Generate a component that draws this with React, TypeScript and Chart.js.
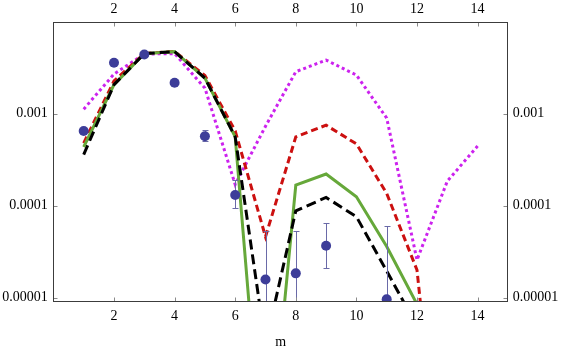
import React, { useEffect, useRef } from 'react';
import { Chart, registerables } from 'chart.js';

Chart.register(...registerables);

// ---------- data ----------
const mValues = [1, 2, 3, 4, 5, 6, 7, 8, 9, 10, 11, 12, 13, 14];
const magentaSeries = [1.12e-3, 2.7e-3, 4.45e-3, 4.5e-3, 1.9e-3, 1.7e-4, 7.3e-4, 2.86e-3, 3.83e-3, 2.63e-3, 8.97e-4, 2.57e-5, 1.85e-4, 4.45e-4];
const redSeries = [4.8e-4, 2.27e-3, 4.5e-3, 4.75e-3, 2.6e-3, 6.5e-4, 4.6e-5, 5.6e-4, 7.5e-4, 4.7e-4, 1.36e-4, 2.0e-5, 1.4e-8, null];
const greenSeries = [4.35e-4, 2.07e-3, 4.5e-3, 4.73e-3, 2.44e-3, 5.6e-4, 6e-8, 1.68e-4, 2.21e-4, 1.25e-4, 3.6e-5, 8.5e-6, null, null];
const blackSeries = [3.6e-4, 2.07e-3, 4.5e-3, 4.73e-3, 2.44e-3, 5.6e-4, 3.1e-6, 8.8e-5, 1.23e-4, 7.6e-5, 1.95e-5, 4.9e-6, null, null];

const dataM = [1, 2, 3, 4, 5, 6, 7, 8, 9, 10, 11];
const dataValues = [6.5e-4, 3.58e-3, 4.4e-3, 2.17e-3, 5.7e-4, 1.31e-4, 1.58e-5, 1.84e-5, 3.67e-5, null, 9.6e-6];
const errUpper = [null, null, null, null, 6.6e-4, 1.9e-4, 5.35e-5, 5.35e-5, 6.44e-5, null, 6.07e-5];
const errLower = [null, null, null, null, 5.0e-4, 9.4e-5, 1e-7, 1e-7, 2.09e-5, null, 1e-7];

const xTickValues = [2, 4, 6, 8, 10, 12, 14];
const yTickValues = [1e-5, 1e-4, 1e-3];
const yTickLabels = ['0.00001', '0.0001', '0.001'];
const xAxisTitle = 'm';

const X_MIN = 0;
const X_MAX = 15;
const Y_MIN = 9.05e-6;
const Y_MAX = 9.93e-3;

// ---------- styles ----------
const FONT = { family: '"Liberation Serif", "Times New Roman", serif', size: 14 };
const POINT_COLOR = '#3d3d99';
const ERR_COLOR = '#6a6aa8';

const toXY = (xs: number[], ys: (number | null)[]) => ys.map((y, i) => ({ x: xs[i], y }));

const errorBarPlugin = {
  id: 'errorBars',
  beforeDatasetDraw(chart: any, args: any) {
    if (args.index !== 0) return;
    const { ctx, chartArea } = chart;
    const xs = chart.scales.x;
    const ys = chart.scales.y;
    ctx.save();
    ctx.beginPath();
    ctx.rect(chartArea.left, chartArea.top, chartArea.right - chartArea.left, chartArea.bottom - chartArea.top);
    ctx.clip();
    ctx.strokeStyle = ERR_COLOR;
    ctx.lineWidth = 1;
    dataM.forEach((m, i) => {
      const hi = errUpper[i];
      const lo = errLower[i];
      if (hi == null || lo == null) return;
      const px = Math.round(xs.getPixelForValue(m)) + 0.5;
      const yh = Math.round(ys.getPixelForValue(hi)) + 0.5;
      const yl = Math.round(ys.getPixelForValue(lo)) + 0.5;
      ctx.beginPath();
      ctx.moveTo(px, yh);
      ctx.lineTo(px, yl);
      ctx.moveTo(px - 3, yh);
      ctx.lineTo(px + 3, yh);
      ctx.moveTo(px - 3, yl);
      ctx.lineTo(px + 3, yl);
      ctx.stroke();
    });
    ctx.restore();
  },
};

const framePlugin = {
  id: 'frameTicks',
  afterDatasetsDraw(chart: any) {
    const { ctx, chartArea } = chart;
    const xs = chart.scales.x;
    const ys = chart.scales.y;
    const l = Math.floor(chartArea.left) + 0.5;
    const r = Math.floor(chartArea.right) + 0.5;
    const t = Math.floor(chartArea.top) + 0.5;
    const b = Math.floor(chartArea.bottom) + 0.5;
    ctx.save();
    ctx.lineWidth = 1;
    ctx.strokeStyle = '#8a8a8a';
    const tl = 4;
    ctx.beginPath();
    xTickValues.forEach((v) => {
      const px = Math.round(xs.getPixelForValue(v)) + 0.5;
      ctx.moveTo(px, b);
      ctx.lineTo(px, b - tl);
      ctx.moveTo(px, t);
      ctx.lineTo(px, t + tl);
    });
    yTickValues.forEach((v) => {
      const py = Math.round(ys.getPixelForValue(v)) + 0.5;
      ctx.moveTo(l, py);
      ctx.lineTo(l + tl, py);
      ctx.moveTo(r, py);
      ctx.lineTo(r - tl, py);
    });
    ctx.stroke();
    ctx.strokeStyle = '#3c3c3c';
    ctx.strokeRect(l, t, r - l, b - t);
    ctx.restore();
  },
};

export default function App() {
  const canvasRef = useRef<HTMLCanvasElement | null>(null);

  useEffect(() => {
    const canvas = canvasRef.current;
    if (!canvas) return;

    const setXTicks = (scale: any) => {
      scale.ticks = xTickValues.map((v) => ({ value: v }));
    };
    const setYTicks = (scale: any) => {
      scale.ticks = yTickValues.map((v) => ({ value: v }));
    };
    const yLabel = (_v: any, i: number) => yTickLabels[i];
    const xLabel = (v: any) => String(v);

    const chart = new Chart(canvas, {
      type: 'line',
      data: {
        datasets: [
          {
            label: 'data',
            data: toXY(dataM, dataValues),
            showLine: false,
            pointRadius: 5,
            pointHoverRadius: 5,
            pointBackgroundColor: POINT_COLOR,
            pointBorderWidth: 0,
            borderWidth: 0,
            borderColor: POINT_COLOR,
          },
          {
            label: 'black',
            data: toXY(mValues, blackSeries),
            borderColor: '#000000',
            borderWidth: 3,
            borderDash: [10, 5],
            pointRadius: 0,
            tension: 0,
          },
          {
            label: 'green',
            data: toXY(mValues, greenSeries),
            borderColor: '#66a83a',
            borderWidth: 3,
            pointRadius: 0,
            tension: 0,
          },
          {
            label: 'red',
            data: toXY(mValues, redSeries),
            borderColor: '#cc1010',
            borderWidth: 3,
            borderDash: [7, 4],
            pointRadius: 0,
            tension: 0,
          },
          {
            label: 'magenta',
            data: toXY(mValues, magentaSeries),
            borderColor: '#cc22ee',
            borderWidth: 3,
            borderDash: [3, 3],
            pointRadius: 0,
            tension: 0,
          },
        ],
      },
      options: {
        animation: false,
        responsive: false,
        devicePixelRatio: 1,
        layout: { padding: 0 },
        plugins: {
          legend: { display: false },
          tooltip: { enabled: false },
        },
        scales: {
          x: {
            type: 'linear',
            position: 'bottom',
            min: X_MIN,
            max: X_MAX,
            afterBuildTicks: setXTicks,
            afterFit: (s: any) => { s.height = 47.3; },
            grid: { display: false, drawTicks: false },
            border: { display: false },
            ticks: { font: FONT, color: '#000', padding: 6.6, maxRotation: 0, autoSkip: false, callback: xLabel },
            title: { display: true, text: xAxisTitle, font: { ...FONT, lineHeight: 1 }, color: '#000', padding: 0 },
          },
          x2: {
            type: 'linear',
            position: 'top',
            min: X_MIN,
            max: X_MAX,
            afterBuildTicks: setXTicks,
            afterFit: (s: any) => { s.height = 22; },
            grid: { display: false, drawTicks: false },
            border: { display: false },
            ticks: { font: FONT, color: '#000', padding: 3.9, maxRotation: 0, autoSkip: false, callback: xLabel },
          },
          y: {
            type: 'logarithmic',
            position: 'left',
            min: Y_MIN,
            max: Y_MAX,
            afterBuildTicks: setYTicks,
            afterFit: (s: any) => { s.width = 53.4; },
            grid: { display: false, drawTicks: false },
            border: { display: false },
            ticks: { font: FONT, color: '#000', padding: 5.7, autoSkip: false, callback: yLabel },
          },
          y2: {
            type: 'logarithmic',
            position: 'right',
            min: Y_MIN,
            max: Y_MAX,
            afterBuildTicks: setYTicks,
            afterFit: (s: any) => { s.width = 567 - 507.9; },
            grid: { display: false, drawTicks: false },
            border: { display: false },
            ticks: { font: FONT, color: '#000', padding: 4.8, autoSkip: false, callback: yLabel },
          },
        },
      },
      plugins: [errorBarPlugin, framePlugin],
    } as any);

    return () => chart.destroy();
  }, []);

  return (
    <div style={{ position: 'fixed', left: 0, top: 0, width: 567, height: 349, background: '#fff' }}>
      <canvas ref={canvasRef} width={567} height={349} style={{ display: 'block', width: 567, height: 349 }} />
    </div>
  );
}
